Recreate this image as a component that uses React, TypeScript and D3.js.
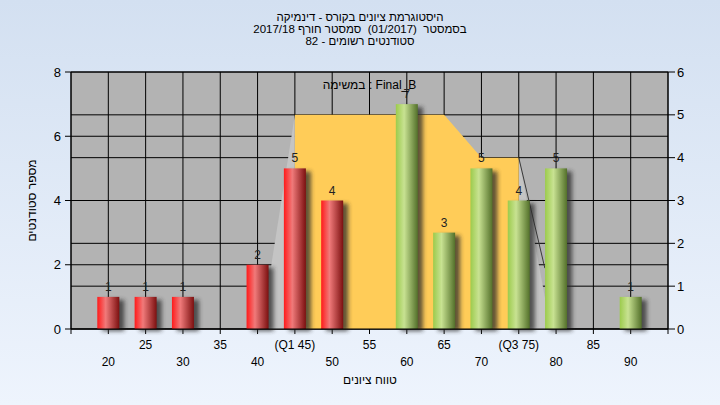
import React from "react";
import * as d3 from "d3";

const categories = [20, 25, 30, 40, 45, 50, 60, 65, 70, 75, 80, 90];
const counts = [1, 1, 1, 2, 5, 4, 7, 3, 5, 4, 5, 1];
const passThreshold = 55;
const xTickValues = [15, 20, 25, 30, 35, 40, 45, 50, 55, 60, 65, 70, 75, 80, 85, 90, 95];
const xTickLabels = ["", "20", "25", "30", "35", "40", "(Q1 45)", "50", "55", "60", "65", "70", "(Q3 75)", "80", "85", "90", ""];
const leftTicks = [0, 2, 4, 6, 8];
const rightTicks = [0, 1, 2, 3, 4, 5, 6];
const iqrX = [45, 50, 55, 60, 65, 70, 75];
const iqrY = [5, 5, 5, 5, 5, 4, 4];
const leftWedgeX = [45, 40.5, 45];
const leftWedgeY = [5, 0, 0];
const rightWedgeX = [75, 79.3, 75];
const rightWedgeY = [4, 0, 0];
const rightEdgeX = [75, 78.5];
const rightEdgeY = [4, 1.42];
const titleLines = [
  "היסטוגרמת ציונים בקורס - דינמיקה",
  "בסמסטר  (01/2017)  סמסטר חורף 2017/18",
  "סטודנטים רשומים - 82",
];
const taskLabel = "במשימה : Final_B";
const yTitle = "מספר סטודנטים";
const xTitle = "טווח ציונים";

const W = 720, H = 405;
const L = 71, R = 668, T = 72, B = 329;
const FONT = "'Liberation Sans', Arial, sans-serif";

export default function App() {
  const x = d3.scaleLinear().domain([15, 95]).range([L, R]);
  const yL = d3.scaleLinear().domain([0, 8]).range([B, T]);
  const yR = d3.scaleLinear().domain([0, 6]).range([B, T]);
  const barW = 22;

  const area = d3.area<number>()
    .x((_, i) => x(iqrX[i]))
    .y0(yR(0))
    .y1((d) => yR(d));
  const poly = (xs: number[], ys: number[]) =>
    xs.map((v, i) => `${x(v)},${yR(ys[i])}`).join(" ");

  return (
    <div style={{ position: "fixed", left: 0, top: 0 }}>
      <svg width={W} height={H} style={{ display: "block" }} fontFamily={FONT}>
        <defs>
          <linearGradient id="bg" x1="0" y1="0" x2="0" y2="1">
            <stop offset="0" stopColor="#d3e0f1" />
            <stop offset="1" stopColor="#eef4fd" />
          </linearGradient>
          <linearGradient id="red" x1="0" y1="0" x2="1" y2="0">
            <stop offset="0" stopColor="#ff1a1a" />
            <stop offset="0.38" stopColor="#f07a7a" />
            <stop offset="1" stopColor="#7c1010" />
          </linearGradient>
          <linearGradient id="green" x1="0" y1="0" x2="1" y2="0">
            <stop offset="0" stopColor="#9ccb4c" />
            <stop offset="0.38" stopColor="#c8e292" />
            <stop offset="1" stopColor="#53702a" />
          </linearGradient>
          <filter id="blur" x="-50%" y="-50%" width="200%" height="200%">
            <feGaussianBlur stdDeviation="2" />
          </filter>
        </defs>
        <rect x={0} y={0} width={W} height={H} fill="url(#bg)" />
        <rect x={L} y={T} width={R - L} height={B - T} fill="#b3b3b3" />

        {/* grid */}
        {leftTicks.map((t) => (
          <line key={"gl" + t} x1={L} x2={R} y1={yL(t)} y2={yL(t)} stroke="#000" strokeWidth={1} />
        ))}
        {rightTicks.map((t) => (
          <line key={"gr" + t} x1={L} x2={R} y1={yR(t)} y2={yR(t)} stroke="#000" strokeWidth={1} />
        ))}
        {xTickValues.map((t) => (
          <line key={"gx" + t} x1={x(t)} x2={x(t)} y1={T} y2={B + 5} stroke="#000" strokeWidth={1} />
        ))}

        {/* IQR area */}
        <polygon points={poly(leftWedgeX, leftWedgeY)} fill="#c4c4c4" />
        <polygon points={poly(rightWedgeX, rightWedgeY)} fill="#c4c4c4" />
        <path d={area(iqrY) || ""} fill="#ffcc58" />
        <line x1={x(rightEdgeX[0])} y1={yR(rightEdgeY[0])} x2={x(rightEdgeX[1])} y2={yR(rightEdgeY[1])} stroke="#3a3a3a" strokeWidth={1} />

        {/* bars */}
        {categories.map((c, i) => {
          const x0 = x(c) - barW / 2;
          const y0 = yL(counts[i]);
          return (
            <g key={"b" + c}>
              <rect x={x0 + 5} y={y0 + 3} width={barW} height={B - y0 - 1} fill="#2a2a2a" opacity={0.75} filter="url(#blur)" />
              <rect x={x0} y={y0} width={barW} height={B - y0} fill={c < passThreshold ? "url(#red)" : "url(#green)"} />
              <text x={x(c)} y={y0 - 6} textAnchor="middle" fontSize={12} fill="#222">{counts[i]}</text>
            </g>
          );
        })}

        {/* axes */}
        <line x1={L} x2={L} y1={T} y2={B} stroke="#000" />
        <line x1={R} x2={R} y1={T} y2={B} stroke="#000" />
        <line x1={L} x2={R} y1={B} y2={B} stroke="#000" />
        {leftTicks.map((t) => (
          <g key={"lt" + t}>
            <line x1={L - 6} x2={L} y1={yL(t)} y2={yL(t)} stroke="#000" />
            <text x={L - 10} y={yL(t) + 4.5} textAnchor="end" fontSize={13} fill="#000">{t}</text>
          </g>
        ))}
        {rightTicks.map((t) => (
          <g key={"rt" + t}>
            <line x1={R} x2={R + 7} y1={yR(t)} y2={yR(t)} stroke="#000" />
            <text x={R + 9} y={yR(t) + 4.5} textAnchor="start" fontSize={13} fill="#000">{t}</text>
          </g>
        ))}
        {xTickValues.map((t, i) => (
          <text key={"xl" + t} x={x(t)} y={i % 2 === 0 ? 349 : 366} textAnchor="middle" fontSize={12} fill="#000">
            {xTickLabels[i]}
          </text>
        ))}

        {/* titles */}
        {titleLines.map((s, i) => (
          <text key={"t" + i} x={360} y={21 + i * 12} textAnchor="middle" fontSize={11.5} fill="#000" direction="rtl" style={{ unicodeBidi: "plaintext", whiteSpace: "pre" } as any}>
            {s}
          </text>
        ))}
        <text x={(L + R) / 2} y={89} textAnchor="middle" fontSize={12} fill="#000">{taskLabel}</text>
        <text transform={`translate(36,${(T + B) / 2}) rotate(-90)`} textAnchor="middle" fontSize={12} fill="#000">{yTitle}</text>
        <text x={370} y={384} textAnchor="middle" fontSize={12} fill="#000">{xTitle}</text>
      </svg>
    </div>
  );
}
